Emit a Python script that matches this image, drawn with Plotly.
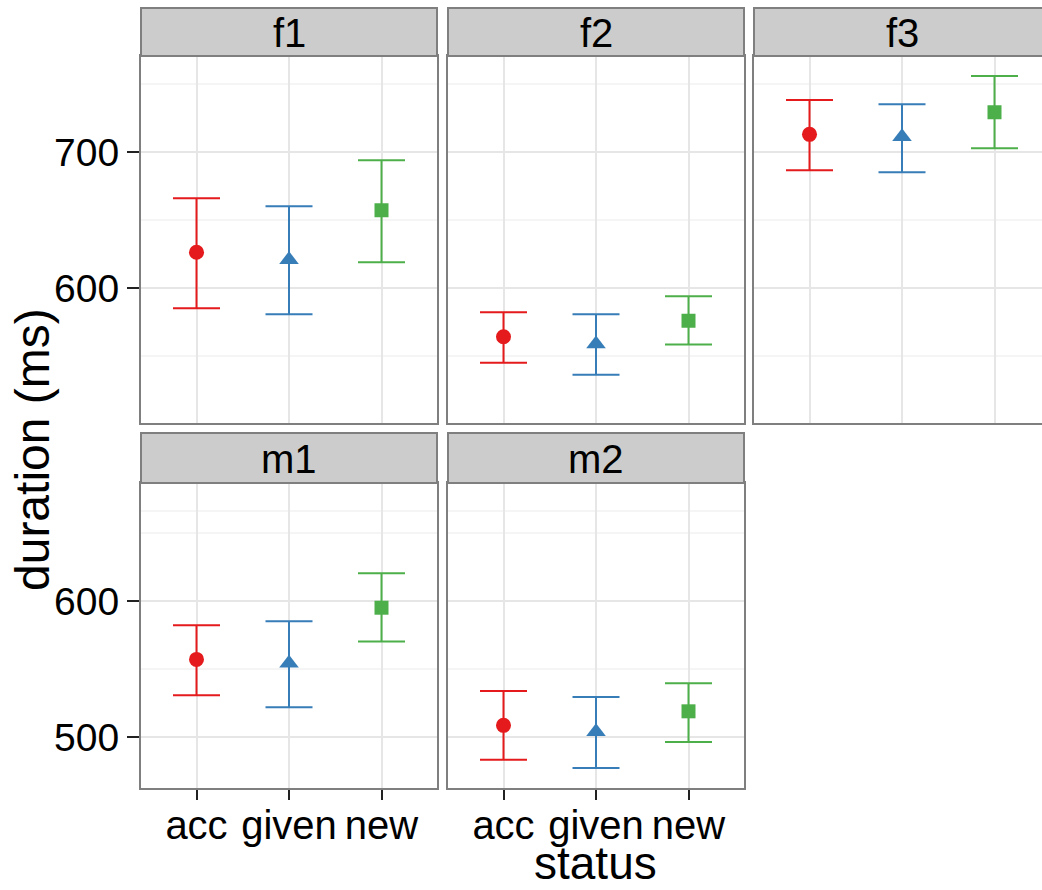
import plotly.graph_objects as go

# ---------------- data ----------------
speakers = ["f1", "f2", "f3", "m1", "m2"]
status_levels = ["acc", "given", "new"]

acc_mean = [626.5, 564.4, 713.2, 557.2, 508.8]
acc_lower = [585.3, 545.3, 686.8, 530.8, 483.6]
acc_upper = [666.2, 582.3, 738.5, 582.2, 534.0]

given_mean = [621.0, 559.0, 711.5, 554.3, 504.1]
given_lower = [580.9, 536.5, 685.3, 522.0, 477.5]
given_upper = [660.3, 580.9, 735.3, 585.1, 529.6]

new_mean = [657.3, 576.2, 729.4, 595.1, 519.1]
new_lower = [619.1, 558.6, 702.9, 570.4, 496.6]
new_upper = [694.1, 594.1, 756.1, 620.3, 539.6]

top_ticks = [600, 700]
bottom_ticks = [500, 600]

# ---------------- styling ----------------
W, H = 1042, 890
FONT = "Liberation Sans, Arial, sans-serif"
colors = {"acc": "#E41A1C", "given": "#377EB8", "new": "#4DAF4A"}
symbols = {"acc": "circle", "given": "triangle-up", "new": "square"}
msize = {"acc": 15, "given": 17, "new": 14}
BORDER = "#7F7F7F"
GRID = "#E6E6E6"
MINOR = "#F5F5F5"

def px_x(p):
    return p / W

def px_y(p):
    return 1 - p / H

cols_px = [(141, 437), (448, 744), (754, 1050)]
rows_px = [(56, 422.5), (483, 787.5)]
strips_px = [(8, 56), (433, 483)]
unit = (cols_px[0][1] - cols_px[0][0]) / 3.2

panel_pos = {"f1": (0, 0), "f2": (0, 1), "f3": (0, 2), "m1": (1, 0), "m2": (1, 1)}
yranges = [(770.8, 501.3), (686.6, 463.2)]

series = {
    "acc": (acc_mean, acc_lower, acc_upper),
    "given": (given_mean, given_lower, given_upper),
    "new": (new_mean, new_lower, new_upper),
}

fig = go.Figure()
shapes = []
annotations = []

for i, sp in enumerate(speakers):
    r, c = panel_pos[sp]
    n = i + 1
    xa = "x" if n == 1 else f"x{n}"
    ya = "y" if n == 1 else f"y{n}"
    for st in status_levels:
        m, lo, hi = series[st]
        fig.add_trace(go.Scatter(
            x=[st], y=[m[i]], xaxis=xa, yaxis=ya, mode="markers",
            marker=dict(color=colors[st], symbol=symbols[st], size=msize[st],
                        line=dict(width=0)),
            error_y=dict(type="data", symmetric=False,
                         array=[hi[i] - m[i]], arrayminus=[m[i] - lo[i]],
                         color=colors[st], thickness=2, width=23.5),
            showlegend=False, hoverinfo="skip",
        ))

    x0p, x1p = cols_px[c]
    y0p, y1p = rows_px[r]
    xdom_right = min(x1p, W)
    xr_right = 2.6 - (x1p - xdom_right) / unit
    bottom_row = (r == 1)
    left_col = (c == 0)

    xkey = "xaxis" if n == 1 else f"xaxis{n}"
    ykey = "yaxis" if n == 1 else f"yaxis{n}"
    fig.layout[xkey] = dict(
        domain=[px_x(x0p), px_x(xdom_right)], anchor=ya,
        type="category", categoryorder="array", categoryarray=status_levels,
        range=[-0.6, xr_right], showgrid=True, gridcolor=GRID, gridwidth=2,
        showline=True, linecolor=BORDER, linewidth=2, mirror=True,
        ticks="outside" if bottom_row else "", ticklen=10, tickwidth=2,
        tickcolor="#222222", showticklabels=bottom_row,
        tickfont=dict(family=FONT, size=40, color="#000000"),
        ticklabelstandoff=-9, zeroline=False, fixedrange=True,
    )
    ticks_vals = top_ticks if r == 0 else bottom_ticks
    minor_vals = [550, 650, 750] if r == 0 else [550, 650, 666]
    fig.layout[ykey] = dict(
        domain=[px_y(y1p), px_y(y0p)], anchor=xa,
        range=[yranges[r][1], yranges[r][0]],
        tickmode="array", tickvals=ticks_vals,
        showgrid=True, gridcolor=GRID, gridwidth=2,
        minor=dict(tickmode="array", tickvals=minor_vals, showgrid=True,
                   gridcolor=MINOR, gridwidth=2, ticks=""),
        showline=True, linecolor=BORDER, linewidth=2, mirror=(c != 2),
        ticks="outside" if left_col else "", ticklen=12, tickwidth=2,
        tickcolor="#222222", showticklabels=False,
        zeroline=False, fixedrange=True,
    )
    if left_col:
        for v in ticks_vals:
            annotations.append(dict(text=str(v), xref="paper", yref=ya,
                                    x=px_x(121), y=v, xanchor="right", yanchor="middle",
                                    showarrow=False,
                                    font=dict(family=FONT, size=39, color="#000000")))

    # strip
    s0, s1 = strips_px[r]
    shapes.append(dict(type="rect", xref="paper", yref="paper",
                       x0=px_x(x0p), x1=px_x(x1p), y0=px_y(s1), y1=px_y(s0),
                       fillcolor="#CCCCCC", line=dict(color=BORDER, width=2),
                       layer="above"))
    annotations.append(dict(text=sp, xref="paper", yref="paper",
                            x=px_x((x0p + x1p) / 2), y=px_y((s0 + s1) / 2 + 1),
                            xanchor="center", yanchor="middle", showarrow=False,
                            font=dict(family=FONT, size=40, color="#000000")))

annotations.append(dict(text="status", xref="paper", yref="paper",
                        x=px_x(595), y=0, xanchor="center", yanchor="bottom",
                        borderpad=0, showarrow=False,
                        font=dict(family=FONT, size=46, color="#000000")))
annotations.append(dict(text="duration (ms)", xref="paper", yref="paper",
                        x=px_x(32), y=px_y(450), xanchor="center", yanchor="middle",
                        textangle=-90, showarrow=False,
                        font=dict(family=FONT, size=48, color="#000000")))

fig.update_layout(
    width=W, height=H, margin=dict(l=0, r=0, t=0, b=0),
    paper_bgcolor="white", plot_bgcolor="white",
    shapes=shapes, annotations=annotations, showlegend=False,
)

fig.write_html("out.html", config={"displayModeBar": False})
